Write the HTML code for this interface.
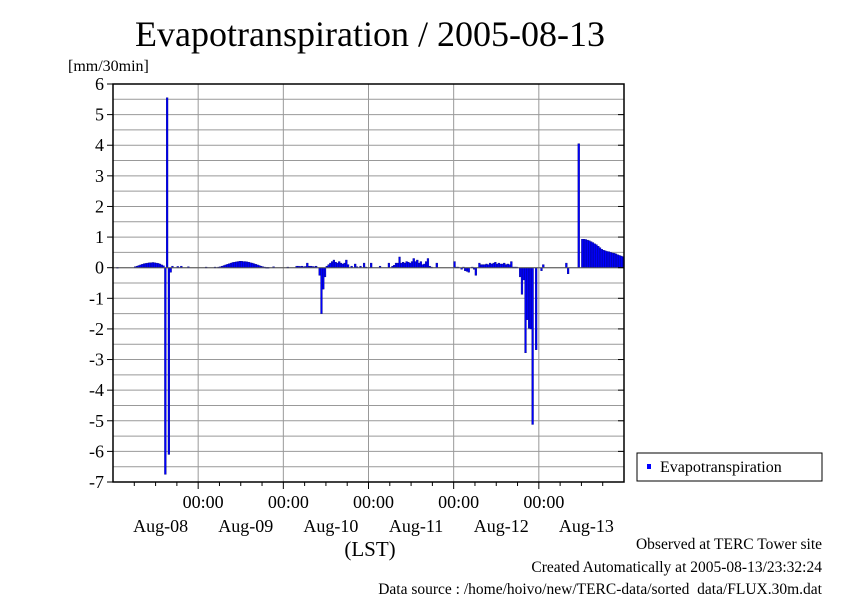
<!DOCTYPE html>
<html><head><meta charset="utf-8"><style>
body{margin:0;background:#fff;}
svg{display:block;font-family:"Liberation Serif",serif;}
</style></head><body>
<svg id="chart" width="842" height="595" viewBox="0 0 842 595">
<text x="370" y="46" font-size="36" text-anchor="middle">Evapotranspiration / 2005-08-13</text>
<text x="68" y="71" font-size="16">[mm/30min]</text>
<g id="grid"></g><g id="bars"></g><g id="axes"></g>
<text x="370" y="556" font-size="21" text-anchor="middle">(LST)</text>
<g>
<rect x="637" y="453" width="185" height="28" fill="#fff" stroke="#000"/>
<rect x="647" y="464" width="4" height="5" fill="#0000ff"/>
<text x="660" y="472" font-size="16">Evapotranspiration</text>
</g>
<text x="822" y="549" font-size="15.5" text-anchor="end">Observed at TERC Tower site</text>
<text x="822" y="572" font-size="15.5" text-anchor="end">Created Automatically at 2005-08-13/23:32:24</text>
<text x="822" y="594" font-size="15.5" text-anchor="end">Data source : /home/hoivo/new/TERC-data/sorted_data/FLUX.30m.dat</text>
</svg>
<script>
const dayLabels=["Aug-08","Aug-09","Aug-10","Aug-11","Aug-12","Aug-13"];
const yTicks=[6,5,4,3,2,1,0,-1,-2,-3,-4,-5,-6,-7];
const et=[
0,0,0.01,0,0,0,0,0,0,0,0,0,
0.03,0.05,0.07,0.09,0.11,0.13,0.14,0.15,0.16,0.16,0.17,0.16,0.15,0.14,0.12,0.09,0.06,
-6.75,5.55,-6.1,
-0.15,0.05,0,0,0.04,0,0.05,0,0,0,0.03,0,0,0,0,0,
0,0,0,0,0.02,0,0,0,0,0.02,0,
0.02,0.03,0.05,0.07,0.09,0.11,0.13,0.15,0.17,0.18,0.19,0.2,0.21,0.21,0.2,0.2,0.19,0.18,0.16,0.15,0.13,0.11,0.09,0.07,0.05,0.03,0.02,0.01,0.01,
0,0,0.03,0,0,0,0,0,
0,0,0.02,0,0,0,0,
0.05,0.05,0.04,0.05,0.03,0.04,0.15,0.05,0.05,0.04,0.03,0.05,
0,-0.25,-1.5,-0.7,-0.3,
0.05,0.1,0.15,0.2,0.25,0.18,0.15,0.2,0.15,0.12,0.15,0.25,0.1,
0,0.05,0,0.12,0.03,0,0.05,0,0.15,0.02,0,
0,0.15,0,0,0,0,0.05,0,0,0,0,0.15,0,
0.05,0.08,0.15,0.15,0.35,0.15,0.18,0.15,0.2,0.18,0.15,0.2,0.3,0.2,0.25,0.15,0.2,0.1,0.12,0.2,0.3,0.05,0.02,0,
0,0.15,0,0,0,0,0,0,0,0,0,
0.2,0.02,0.02,0,-0.05,0.02,-0.1,-0.12,-0.15,0,0.02,-0.05,-0.25,0,
0.15,0.1,0.1,0.1,0.12,0.1,0.15,0.12,0.15,0.18,0.12,0.15,0.12,0.12,0.15,0.1,0.12,0.1,0.2,
0.02,0.02,0.02,0,
-0.3,-0.87,-0.4,-2.78,-1.7,-1.98,-2.0,-5.12,0,-2.68,0,
0,-0.1,0.1,0,0,0,0,0,0,0,0,0,0,0,0,0.15,-0.2,0,0,0,0,0,
4.05,0,
0.93,0.93,0.92,0.9,0.88,0.85,0.82,0.78,0.75,0.7,0.65,0.6,0.57,0.55,0.53,0.52,0.5,0.48,0.47,0.45,0.42,0.4,0.38,0.36
];
const NS="http://www.w3.org/2000/svg";
const L=113,R=624,T=84,B=482,yMax=6,yMin=-7,nSlots=288;
function xs(i){return L+(R-L)*i/nSlots;}
function ys(v){return T+(yMax-v)/(yMax-yMin)*(B-T);}
function mk(tag,parent,attrs){const e=document.createElementNS(NS,tag);for(const k in attrs)e.setAttribute(k,attrs[k]);parent.appendChild(e);return e;}
const grid=document.getElementById('grid'),bars=document.getElementById('bars'),axes=document.getElementById('axes');
for(let v=yMin+0.5;v<yMax;v+=0.5){
 const g=mk('line',grid,{x1:L,x2:R,y1:ys(v),y2:ys(v),stroke:'#999','stroke-width':1});
 
 
}
for(let d=1;d<dayLabels.length;d++){
 const g=mk('line',grid,{x1:xs(d*48),x2:xs(d*48),y1:T,y2:B,stroke:'#999','stroke-width':1});
 
 
}
et.forEach((v,i)=>{
 if(v===0)return;
 const y0=ys(0),y1=ys(v);
 const r=mk('rect',bars,{x:xs(i),y:Math.min(y0,y1),width:(R-L)/nSlots,height:Math.max(Math.abs(y1-y0),0.8),fill:'#0000ff',stroke:'#000080','stroke-width':0.4});
 
 
});
const z=mk('line',axes,{x1:L,x2:R,y1:ys(0),y2:ys(0),stroke:'#555','stroke-width':1});


const fr=mk('rect',axes,{x:L,y:T,width:R-L,height:B-T,fill:'none',stroke:'#000','stroke-width':1.5});


yTicks.forEach(v=>{
 const y=ys(v);
 mk('line',axes,{x1:L-6,x2:L,y1:y,y2:y,stroke:'#000'});
 mk('line',axes,{x1:R-6,x2:R,y1:y,y2:y,stroke:'#000'});
 const t=mk('text',axes,{x:L-9,y:y+6,'font-size':18,'text-anchor':'end'});
 t.textContent=v;
 
 
});
for(let h=6;h<144;h+=6){
 const x=xs(h*2),len=(h%24===0)?7:4;
 mk('line',axes,{x1:x,x2:x,y1:B,y2:B+len,stroke:'#000'});
}
dayLabels.forEach((lab,d)=>{
 if(d>0){
  const t=mk('text',axes,{x:xs(d*48)+5,y:508,'font-size':18,'text-anchor':'middle'});
  t.textContent='00:00';
  
  
 }
 const t2=mk('text',axes,{x:xs(d*48+24)+5,y:532,'font-size':18,'text-anchor':'middle'});
 t2.textContent=lab;
 
 
});
</script>
</body></html>
